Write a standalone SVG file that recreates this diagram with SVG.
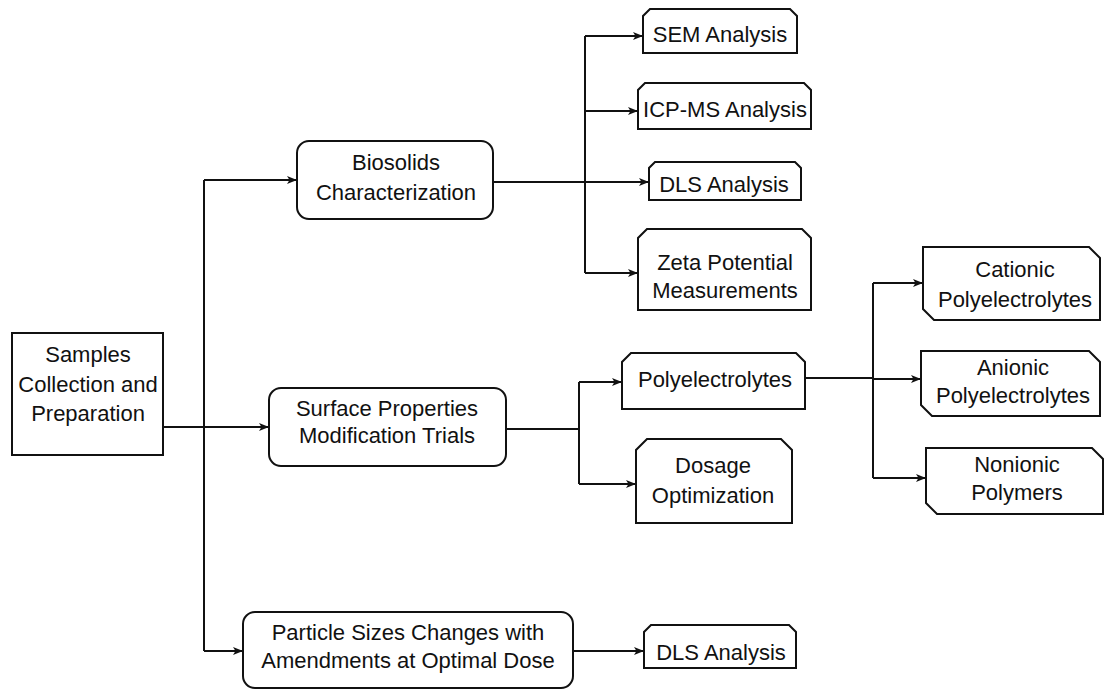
<svg xmlns="http://www.w3.org/2000/svg" width="1105" height="690" viewBox="0 0 1105 690">
<defs>
<marker id="arr" markerUnits="userSpaceOnUse" markerWidth="12" markerHeight="10" refX="10" refY="4" orient="auto">
<path d="M0,0 L10,4 L0,8 L2.5,4 Z" fill="#111"/>
</marker>
<style>
.box{fill:#fff;stroke:#111;stroke-width:2;stroke-linejoin:miter}
.t{font-family:"Liberation Sans",Arial,sans-serif;font-size:22px;fill:#111;text-anchor:middle}
.c{fill:none;stroke:#111;stroke-width:2}
.a{fill:none;stroke:#111;stroke-width:2;marker-end:url(#arr)}
</style>
</defs>
<rect width="1105" height="690" fill="#fff"/>
<g id="connectors">
<path class="c" d="M204,180 V651"/>
<path class="a" d="M204,180 H297"/>
<path class="a" d="M204,651 H243"/>
<path class="a" d="M163,427 H269"/>
<path class="a" d="M493,182 H649"/>
<path class="c" d="M585,36 V273"/>
<path class="a" d="M585,36 H643"/>
<path class="a" d="M585,111 H638"/>
<path class="a" d="M585,273 H638"/>
<path class="c" d="M506,429 H579 M579,382 V484"/>
<path class="a" d="M579,382 H622"/>
<path class="a" d="M579,484 H636"/>
<path class="c" d="M805,378 H873 M873,283 V478"/>
<path class="a" d="M873,283 H923"/>
<path class="a" d="M873,379 H921"/>
<path class="a" d="M873,478 H926"/>
<path class="a" d="M573,651 H644"/>
</g>
<g id="samples">
<rect class="box" x="12" y="333" width="151" height="122"/>
<text class="t" x="88" y="362">Samples</text>
<text class="t" x="88" y="392">Collection and</text>
<text class="t" x="88" y="421">Preparation</text>
</g>
<g id="biosolids">
<rect class="box" x="297" y="141" width="196" height="78" rx="12"/>
<text class="t" x="396" y="170">Biosolids</text>
<text class="t" x="396" y="200">Characterization</text>
</g>
<g id="surface">
<rect class="box" x="269" y="388" width="237" height="78" rx="12"/>
<text class="t" x="387" y="416">Surface Properties</text>
<text class="t" x="387" y="443">Modification Trials</text>
</g>
<g id="particle">
<rect class="box" x="243" y="612" width="330" height="76" rx="12"/>
<text class="t" x="408" y="640">Particle Sizes Changes with</text>
<text class="t" x="408" y="668">Amendments at Optimal Dose</text>
</g>
<g id="sem">
<polygon class="box" points="643,53 643,16 650,9 790,9 797,16 797,53"/>
<text class="t" x="720" y="42">SEM Analysis</text>
</g>
<g id="icpms">
<polygon class="box" points="638,129 638,90 645,83 804,83 811,90 811,129"/>
<text class="t" x="725" y="117">ICP-MS Analysis</text>
</g>
<g id="dls1">
<polygon class="box" points="649,200 649,168 655,162 795,162 801,168 801,200"/>
<text class="t" x="724" y="192">DLS Analysis</text>
</g>
<g id="zeta">
<polygon class="box" points="638,310 638,238 647,229 802,229 811,238 811,310"/>
<text class="t" x="725" y="270">Zeta Potential</text>
<text class="t" x="725" y="298">Measurements</text>
</g>
<g id="polyelectrolytes">
<polygon class="box" points="622,409 622,362 631,353 796,353 805,362 805,409"/>
<text class="t" x="715" y="387">Polyelectrolytes</text>
</g>
<g id="dosage">
<polygon class="box" points="636,523 636,450 647,439 781,439 792,450 792,523"/>
<text class="t" x="713" y="473">Dosage</text>
<text class="t" x="713" y="503">Optimization</text>
</g>
<g id="cationic">
<polygon class="box" points="923,247 1089,247 1100,258 1100,320 934,320 923,309"/>
<text class="t" x="1015" y="277">Cationic</text>
<text class="t" x="1015" y="307">Polyelectrolytes</text>
</g>
<g id="anionic">
<polygon class="box" points="921,351 1089,351 1100,362 1100,416 932,416 921,405"/>
<text class="t" x="1013" y="375">Anionic</text>
<text class="t" x="1013" y="403">Polyelectrolytes</text>
</g>
<g id="nonionic">
<polygon class="box" points="926,448 1092,448 1103,459 1103,514 937,514 926,503"/>
<text class="t" x="1017" y="472">Nonionic</text>
<text class="t" x="1017" y="500">Polymers</text>
</g>
<g id="dls2">
<polygon class="box" points="644,668 644,632 651,625 789,625 796,632 796,668"/>
<text class="t" x="721" y="660">DLS Analysis</text>
</g>
</svg>
